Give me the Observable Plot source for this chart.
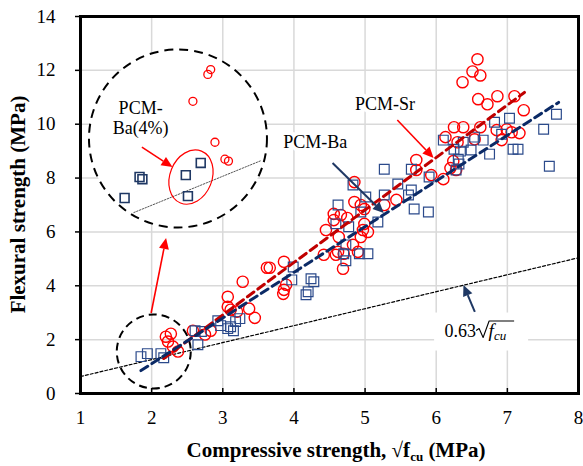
<!DOCTYPE html>
<html><head><meta charset="utf-8">
<script src="https://cdn.jsdelivr.net/npm/d3@7"></script>
<script src="https://cdn.jsdelivr.net/npm/@observablehq/plot@0.6"></script>
<style>body{margin:0;background:#fff}</style>
</head><body><div id="chart"></div>
<script>
// ---- data ----
const xTicks = [1,2,3,4,5,6,7,8];
const yTicks = [0,2,4,6,8,10,12,14];

const srX = [2.20,2.27,2.30,2.37,2.23,2.58,2.75,2.83,3.07,3.07,3.11,3.28,3.37,3.45,3.20,3.62,3.66,3.86,3.89,3.86,3.85,4.42,4.59,4.69,4.70,4.83,4.90,4.94,4.45,4.56,4.66,4.75,4.63,4.85,4.94,4.99,4.97,4.85,4.99,5.04,5.44,5.27,5.72,5.72,5.93,6.10,6.24,6.20,6.28,6.58,6.51,6.62,6.37,6.59,6.72,6.86,7.10,7.23,6.25,6.38,6.62,6.13,6.54,6.30,6.85,6.99,7.06,7.17,6.92,4.56,4.62];
const srY = [2.11,2.22,1.74,1.56,1.93,2.33,2.19,2.33,3.59,3.22,3.11,4.15,3.15,2.81,3.04,4.67,4.67,4.89,4.04,3.85,3.70,5.15,5.15,4.63,5.19,5.52,5.26,5.81,6.07,6.67,6.63,6.52,5.81,7.11,7.00,6.30,6.07,7.85,6.85,6.00,7.19,7.00,8.67,8.30,8.11,7.96,8.63,8.37,8.30,12.41,11.96,11.81,11.56,10.93,10.74,11.04,11.04,10.52,9.89,9.89,9.89,9.52,9.44,9.33,9.78,9.81,9.70,9.67,9.41,6.44,5.26];

const baX = [1.85,1.94,2.13,2.17,2.61,2.70,2.65,2.93,2.97,3.07,3.15,3.18,3.24,3.11,3.99,3.97,4.24,4.28,4.20,4.17,4.73,4.92,5.04,4.73,4.70,4.62,4.59,4.77,4.94,5.01,5.27,5.65,5.46,5.65,5.27,5.61,5.69,5.89,5.18,4.83,6.25,6.31,7.03,6.82,7.69,7.51,6.66,6.49,6.34,6.75,7.08,7.15,7.59,6.32,6.28,5.90,6.10,6.54,6.38,6.92];
const baY = [1.37,1.48,1.48,1.33,2.33,2.30,1.81,2.70,2.52,2.41,2.33,2.67,2.78,2.48,4.70,4.22,4.26,4.15,3.78,3.67,4.93,5.19,5.19,5.52,5.19,7.00,6.30,6.19,6.74,7.30,8.33,8.33,7.78,7.56,7.37,7.37,6.85,6.74,6.37,7.74,9.07,8.70,10.22,10.07,10.37,9.81,9.41,9.04,9.00,8.89,9.07,9.07,8.44,8.52,8.30,8.04,9.41,9.52,9.33,9.63];

// magnified inset (PCM-Ba(4%) region)
const insetSrX = [2.58,2.83,2.79,2.89,3.03,3.08];
const insetSrY = [10.85,12.03,11.85,9.33,8.70,8.63];
const insetBaX = [1.62,1.83,1.87,2.48,2.51,2.69];
const insetBaY = [7.26,8.04,7.96,8.11,7.33,8.56];
const insetLineX = [1.75,3.54];
const insetLineY = [6.72,8.65];

// fitted lines and code line
const fitSrX = [2.17,7.24], fitSrY = [1.30,11.18];
const fitBaX = [1.85,7.72], fitBaY = [0.85,10.81];
const codeX = [1,8], codeY = [0.63,5.04];

// annotation anchors (data units)
const ringBig = {x:2.37, y:9.47};
const ringSmall = {x:2.03, y:1.56};
const ellipseC = {x:2.56, y:8.02};
const arrowsRed = [[2.00,2.97,2.21,5.76],[1.87,9.13,2.30,8.39],[5.46,10.14,5.97,8.73]];
const arrowsBlue = [[4.55,8.54,5.27,6.68],[6.55,3.01,6.39,4.01]];
const labels = [
  {x:5.28, y:10.73, text:"PCM-Sr"},
  {x:4.30, y:9.32, text:"PCM-Ba"}
];
const insetLabel = {x:1.845, y:10.25, text:"PCM-\nBa(4%)"};
const formulaPos = {x:6.61, y:2.32};
const formulaText = ["0.63", "f", "cu"];

const xTitle = ["Compressive strength, √f", "cu", " (MPa)"];
const yTitle = "Flexural strength (MPa)";

// ---- build ----
const font = "Liberation Serif, 'Times New Roman', serif";
const sr = srX.map((x,i)=>({x, y:srY[i]}));
const ba = baX.map((x,i)=>({x, y:baY[i]}));
const isr = insetSrX.map((x,i)=>({x, y:insetSrY[i]}));
const iba = insetBaX.map((x,i)=>({x, y:insetBaY[i]}));
const pairs = (X,Y)=>X.map((x,i)=>({x, y:Y[i]}));

function arrow(g, x1,y1,x2,y2,color,w){
  const dx=x2-x1, dy=y2-y1, L=Math.hypot(dx,dy), ux=dx/L, uy=dy/L;
  const hl=11, hw=5;
  const bx=x2-ux*hl, by=y2-uy*hl;
  g.append("line").attr("x1",x1).attr("y1",y1).attr("x2",bx).attr("y2",by)
    .attr("stroke",color).attr("stroke-width",w);
  g.append("path").attr("d",`M${x2},${y2}L${bx-uy*hw},${by+ux*hw}L${bx+uy*hw},${by-ux*hw}Z`).attr("fill",color);
}

function annotations(index, scales, values, dim){
  const {x, y} = scales;
  const g = d3.create("svg:g");
  // red ellipse
  const ex = x(ellipseC.x), ey = y(ellipseC.y);
  g.append("ellipse").attr("cx",ex).attr("cy",ey).attr("rx",21).attr("ry",28)
    .attr("transform",`rotate(22 ${ex} ${ey})`).attr("fill","none").attr("stroke","#ff0000").attr("stroke-width",1.2);
  for (const a of arrowsRed) arrow(g, x(a[0]), y(a[1]), x(a[2]), y(a[3]), "#ff0000", 1.6);
  for (const a of arrowsBlue) arrow(g, x(a[0]), y(a[1]), x(a[2]), y(a[3]), "#1f3864", 2);
  // formula 0.63√fcu
  const fx = x(formulaPos.x), by = y(formulaPos.y) + 6;
  g.append("rect").attr("x",fx-45).attr("y",by-24).attr("width",94).attr("height",38).attr("fill","white");
  g.append("text").attr("x",fx-3).attr("y",by).attr("text-anchor","end")
    .attr("font-family",font).attr("font-size",18).attr("fill","black").text(formulaText[0]);
  g.append("path").attr("d",`M${fx-3},${by-6}L${fx},${by-8}L${fx+4},${by+1}L${fx+10},${by-15.5}L${fx+35},${by-15.5}`)
    .attr("fill","none").attr("stroke","black").attr("stroke-width",1.1).attr("stroke-linejoin","round");
  g.append("text").attr("x",fx+12).attr("y",by).attr("font-family",font).attr("font-style","italic")
    .attr("font-size",19).attr("fill","black").text(formulaText[1]);
  g.append("text").attr("x",fx+21).attr("y",by+3).attr("font-family",font).attr("font-style","italic")
    .attr("font-size",13).attr("fill","black").text(formulaText[2]);
  // x title
  const cx = (dim.marginLeft + dim.width - dim.marginRight)/2 + 7;
  const xt = g.append("text").attr("x",cx).attr("y",dim.height - dim.marginBottom + 64)
    .attr("text-anchor","middle").attr("font-family",font).attr("font-size",21).attr("font-weight","bold").attr("fill","black");
  xt.append("tspan").text(xTitle[0]);
  xt.append("tspan").attr("font-size",13).attr("dy",4).text(xTitle[1]);
  xt.append("tspan").attr("dy",-4).text(xTitle[2]);
  // y title
  const cy = (dim.marginTop + dim.height - dim.marginBottom)/2;
  g.append("text").attr("transform",`translate(25,${cy}) rotate(-90)`)
    .attr("text-anchor","middle").attr("font-family",font).attr("font-size",21).attr("font-weight","bold").attr("fill","black")
    .text(yTitle);
  return g.node();
}

const chart = Plot.plot({
  width: 583, height: 466,
  marginLeft: 80, marginRight: 5, marginTop: 16, marginBottom: 73,
  x: {domain:[1,8]},
  y: {domain:[0,14]},
  style: {fontFamily: font, fontSize: "19px", background: "white", overflow: "visible"},
  marks: [
    Plot.gridX(xTicks.slice(1,-1), {stroke:"#d9d9d9", strokeOpacity:1, strokeWidth:1.5}),
    Plot.gridY(yTicks.slice(1,-1), {stroke:"#d9d9d9", strokeOpacity:1, strokeWidth:1.5}),
    Plot.axisY(yTicks, {tickSize:5, tickPadding:20, label:null, stroke:"black", strokeWidth:1.5, fill:"black"}),
    Plot.axisX(xTicks, {tickSize:0, tickPadding:17, label:null, fill:"black"}),
    Plot.ruleX(xTicks.slice(1,-1), {y1:0, y2:0, insetTop:-5, stroke:"black", strokeWidth:1.5}),
    Plot.line(pairs(codeX, codeY), {x:"x", y:"y", stroke:"black", strokeWidth:1.2, strokeDasharray:"3,2"}),
    Plot.dot([ringBig], {x:"x", y:"y", r:89, fill:"white", stroke:"black", strokeWidth:2, strokeDasharray:"9,6"}),
    Plot.dot([ringSmall], {x:"x", y:"y", r:37, fill:"none", stroke:"black", strokeWidth:2, strokeDasharray:"8,5"}),
    Plot.line(pairs(insetLineX, insetLineY), {x:"x", y:"y", stroke:"#555", strokeWidth:1, strokeDasharray:"1.5,1.5"}),
    Plot.dot(sr, {x:"x", y:"y", r:5.6, stroke:"#ff0000", strokeWidth:1.4, fill:"none"}),
    Plot.dot(ba, {x:"x", y:"y", r:5.5, symbol:"square", stroke:"#2b4a8b", strokeWidth:1.2, fill:"none"}),
    Plot.dot(isr, {x:"x", y:"y", r:4, stroke:"#ff0000", strokeWidth:1.3, fill:"none"}),
    Plot.dot(iba, {x:"x", y:"y", r:5, symbol:"square", stroke:"#1f3864", strokeWidth:1.6, fill:"none"}),
    Plot.line(pairs(fitSrX, fitSrY), {x:"x", y:"y", stroke:"#c00000", strokeWidth:3, strokeDasharray:"8,5"}),
    Plot.line(pairs(fitBaX, fitBaY), {x:"x", y:"y", stroke:"#0b2a66", strokeWidth:3, strokeDasharray:"8,5"}),
    Plot.text(labels, {x:"x", y:"y", text:"text", fontSize:18, fill:"black", stroke:"white", strokeWidth:8}),
    Plot.text([insetLabel], {x:"x", y:"y", text:"text", fontSize:18, fill:"black", lineHeight:1.15}),
    annotations,
    Plot.frame({stroke:"black", strokeWidth:3})
  ]
});
document.getElementById("chart").appendChild(chart);
</script>
</body></html>
